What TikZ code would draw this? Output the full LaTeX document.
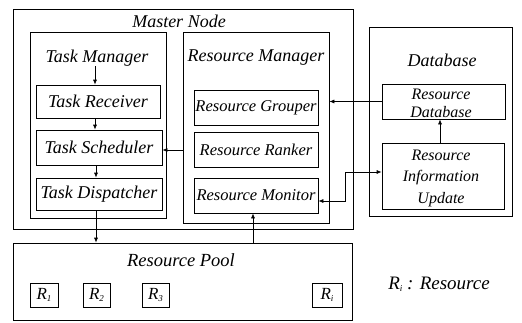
\documentclass[tikz,border=0pt]{standalone}
\usepackage{fontspec}
\setmainfont{Liberation Serif}
\usetikzlibrary{arrows.meta}
\begin{document}
\begin{tikzpicture}[x=1pt,y=-1pt,
  box/.style={draw, line width=0.7pt, rectangle, inner sep=0pt},
  big/.style={font=\fontsize{18}{20}\selectfont\itshape, inner sep=0pt},
  mid/.style={font=\fontsize{16.5}{19}\selectfont\itshape, inner sep=0pt, align=center},
  arr/.style={line width=0.7pt, -{Latex[length=5pt,width=4pt]}},
  biarr/.style={line width=0.7pt, {Latex[length=5pt,width=4pt]}-{Latex[length=5pt,width=4pt]}},
  rbox/.style={box, minimum height=24pt, font=\fontsize{17}{19}\selectfont\itshape}
]
\useasboundingbox (0,0) rectangle (522,322);
\newcommand{\rsub}[1]{R\raisebox{-2pt}{\fontsize{9}{9}\selectfont #1}}

% Master node with its two managers
\node[box, minimum width=340pt, minimum height=220pt] (master) at (183,119) {};
\node[big] (mnlabel) at (179,21) {Master Node};

\node[box, minimum width=136pt, minimum height=186pt] (taskmgr) at (98,125) {};
\node[big] (tmlabel) at (97,58) {Task Manager};
\node[box, big, minimum width=124pt, minimum height=33pt] (recv) at (98,101.5) {Task Receiver};
\node[box, big, minimum width=126pt, minimum height=35pt] (sched) at (99,147.5) {Task Scheduler};
\node[box, big, minimum width=126pt, minimum height=32pt] (disp) at (99,194) {Task Dispatcher};

\node[box, minimum width=146pt, minimum height=191pt] (resmgr) at (256,127.5) {};
\node[big] (rmlabel) at (256,58) {Resource Manager};
\node[box, mid, minimum width=124pt, minimum height=35pt] (grouper) at (256,107.5) {Resource Grouper};
\node[box, mid, minimum width=124pt, minimum height=35pt] (ranker) at (256,149.5) {Resource Ranker};
\node[box, mid, minimum width=124pt, minimum height=35pt] (monitor) at (256,195.5) {Resource Monitor};

% Database side
\node[box, minimum width=143pt, minimum height=189pt] (database) at (440.5,121.5) {};
\node[big] (dblabel) at (442,60) {Database};
\node[box, minimum width=123pt, minimum height=35pt] (resdb) at (443.5,101.5) {};
\node[mid, font=\fontsize{16}{18}\selectfont\itshape] (resdbtext) at (441,103) {Resource\\Database};
\node[box, minimum width=122pt, minimum height=66pt] (infoupd) at (443,176) {};
\node[mid, font=\fontsize{16}{21.5}\selectfont\itshape] (infotext) at (441,178) {Resource\\Information\\Update};

% Resource pool
\node[box, minimum width=339pt, minimum height=77pt] (pool) at (182.5,281.5) {};
\node[big, font=\fontsize{18.5}{20}\selectfont\itshape] (plabel) at (181,260) {Resource Pool};
\node[rbox, minimum width=28pt] (r1) at (44,295) {\rsub{1}};
\node[rbox, minimum width=27pt] (r2) at (96.5,295) {\rsub{2}};
\node[rbox, minimum width=27pt] (r3) at (155.5,295) {\rsub{3}};
\node[rbox, minimum width=30pt] (ri) at (327,295) {\rsub{i}};
\node[font=\fontsize{19}{21}\selectfont\itshape, inner sep=0pt] (legend) at (439,284) {R\raisebox{-2pt}{\fontsize{9}{9}\selectfont i} : Resource};

% Connectors
\draw[arr] (tmlabel.south -| 95,0) -- (recv.north -| 95,0);
\draw[arr] (recv.south -| 95,0) -- (sched.north -| 95,0);
\draw[arr] (sched.south -| 96,0) -- (disp.north -| 96,0);
\draw[arr] (disp.south -| 96,0) -- (pool.north -| 96,0);
\draw[arr] (pool.north -| 253,0) -- (monitor.south -| 253,0);
\draw[arr] (resmgr.west |- 0,150) -- (sched.east |- 0,150);
\draw[arr] (resdb.west) -- (resmgr.east |- resdb.west);
\draw[arr] (infoupd.north -| 440,0) -- (resdb.south -| 440,0);
\draw[biarr] (monitor.east |- 0,201) -- (345,201) |- (infoupd.west |- 0,172);
\end{tikzpicture}
\end{document}
